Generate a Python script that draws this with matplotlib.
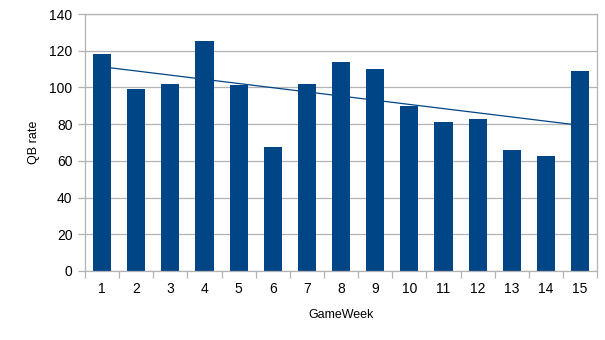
import matplotlib.pyplot as plt
import numpy as np

plt.rcParams['font.family'] = ['Liberation Sans', 'DejaVu Sans']

# QB rating per game week
weeks = list(range(1, 16))
qb_rate = [118.0, 99.0, 101.6, 125.5, 101.1, 67.4, 101.6, 114.1,
           110.3, 89.8, 81.0, 82.6, 65.8, 62.5, 109.2]

bar_color = '#004586'
grid_color = '#b3b3b3'

fig = plt.figure(figsize=(6.05, 3.4), dpi=100)
ax = fig.add_axes([0.1405, 0.203, 0.8465, 0.7558])

x = np.arange(len(weeks))
ax.bar(x, qb_rate, width=0.53, color=bar_color, zorder=2)

# linear trend line
coef = np.polyfit(weeks, qb_rate, 1)
trend = np.polyval(coef, weeks)
ax.plot(x, trend, color=bar_color, linewidth=0.9, zorder=3)

ax.set_xlim(-0.5, len(weeks) - 0.5)
ax.set_ylim(0, 140)
ax.set_yticks(range(0, 141, 20))
ax.set_xticks(x)
ax.set_xticklabels([str(w) for w in weeks])
ax.set_xticks(np.arange(-0.5, len(weeks), 1), minor=True)

ax.yaxis.grid(True, color=grid_color, linewidth=0.9, zorder=0)
ax.set_axisbelow(True)
for s in ax.spines.values():
    s.set_color(grid_color)
    s.set_linewidth(0.9)

ax.tick_params(axis='x', which='major', length=0, pad=8, labelsize=10)
ax.tick_params(axis='x', which='minor', length=5, color=grid_color, width=0.9)
ax.tick_params(axis='y', length=5, color=grid_color, width=0.9, pad=4, labelsize=10)

ax.set_xlabel('GameWeek', fontsize=9, labelpad=9)
ax.set_ylabel('QB rate', fontsize=9, labelpad=7)

fig.savefig('out.png', dpi=100)
